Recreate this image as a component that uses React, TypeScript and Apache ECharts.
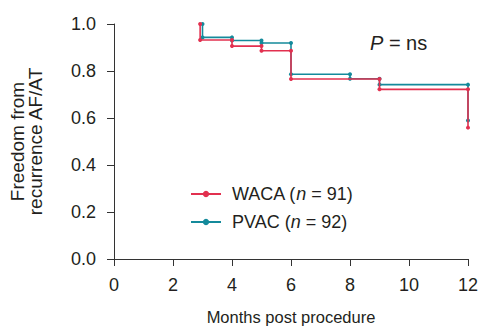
import React, { useEffect, useRef } from "react";
import * as echarts from "echarts";

const wacaTimes = [2.92, 2.92, 4, 4, 5, 5, 6, 6, 9, 9, 12, 12];
const wacaValues = [1.0, 0.932, 0.932, 0.906, 0.906, 0.886, 0.886, 0.766, 0.766, 0.722, 0.722, 0.559];
const pvacTimes = [3, 3, 4, 4, 5, 5, 6, 6, 8, 8, 9, 9, 12, 12];
const pvacValues = [1.0, 0.943, 0.943, 0.93, 0.93, 0.919, 0.919, 0.786, 0.786, 0.767, 0.767, 0.742, 0.742, 0.589];
const seriesNames = ["WACA", "PVAC"];
const seriesN = [91, 92];
const xTicks = [0, 2, 4, 6, 8, 10, 12];
const yTicks = [0, 0.2, 0.4, 0.6, 0.8, 1.0];

const RED = "#e2304f";
const TEAL = "#148a9b";
const FONT = "Liberation Sans, Arial, sans-serif";
const TXT = "#231f20";

export default function App() {
  const ref = useRef<HTMLDivElement>(null);
  useEffect(() => {
    const chart = echarts.init(ref.current!, null, { renderer: "svg" });
    const toPairs = (t: number[], v: number[]) => t.map((x, i) => [x, v[i]]);
    chart.setOption({
      animation: false,
      textStyle: { fontFamily: FONT },
      grid: { left: 114, right: 13, top: 24, bottom: 69, containLabel: false, outerBoundsMode: "none" },
      legend: {
        orient: "vertical",
        left: 185,
        top: 180,
        itemWidth: 30,
        itemHeight: 8,
        itemGap: 10,
        data: seriesNames,
        textStyle: {
          fontSize: 18,
          color: TXT,
          fontFamily: FONT,
          rich: {
            s: { width: 6 },
            a: { fontSize: 18, color: TXT, fontFamily: FONT },
            i: { fontSize: 18, color: TXT, fontFamily: FONT, fontStyle: "italic" },
          },
        },
        formatter: (name: string) => {
          const idx = seriesNames.indexOf(name);
          return `{s|}{a|${name} (}{i|n}{a| = ${seriesN[idx]})}`;
        },
      },
      xAxis: {
        type: "value",
        min: 0,
        max: 12,
        interval: 2,
        name: "Months post procedure",
        nameLocation: "middle",
        nameGap: 49,
        nameTextStyle: { fontSize: 16.5, color: TXT, fontFamily: FONT },
        axisLine: { onZero: false, lineStyle: { color: "#333", width: 1 } },
        axisTick: { show: true, length: 7, lineStyle: { color: "#333" } },
        axisLabel: {
          fontSize: 18,
          color: TXT,
          margin: 17,
          formatter: (v: number) => (xTicks.includes(v) ? String(v) : ""),
        },
        splitLine: { show: false },
      },
      yAxis: {
        type: "value",
        min: 0,
        max: 1,
        interval: 0.2,
        name: "Freedom from\nrecurrence AF/AT",
        nameLocation: "middle",
        nameGap: 70,
        nameTextStyle: { fontSize: 19, color: TXT, fontFamily: FONT, lineHeight: 18 },
        axisLine: { show: true, lineStyle: { color: "#333", width: 1 } },
        axisTick: { show: true, length: 7, lineStyle: { color: "#333" } },
        axisLabel: {
          fontSize: 18,
          color: TXT,
          margin: 18,
          formatter: (v: number) => {
            const t = yTicks.find((y) => Math.abs(y - v) < 1e-6);
            return t === undefined ? "" : t.toFixed(1);
          },
        },
        splitLine: { show: false },
      },
      series: [
        {
          name: seriesNames[1],
          type: "line",
          data: toPairs(pvacTimes, pvacValues),
          symbol: "circle",
          symbolSize: 4,
          showSymbol: true,
          lineStyle: { color: TEAL, width: 1.6 },
          itemStyle: { color: TEAL },
          z: 2,
        },
        {
          name: seriesNames[0],
          type: "line",
          data: toPairs(wacaTimes, wacaValues),
          symbol: "circle",
          symbolSize: 4,
          showSymbol: true,
          lineStyle: { color: RED, width: 1.6 },
          itemStyle: { color: RED },
          z: 3,
        },
      ],
      graphic: [
        {
          type: "text",
          left: 370,
          top: 33,
          style: {
            text: "{i|P}{a| = ns}",
            rich: {
              i: { fontSize: 20, fontStyle: "italic", fill: TXT, fontFamily: FONT },
              a: { fontSize: 20, fill: TXT, fontFamily: FONT },
            },
          },
        },
      ],
    });
    return () => chart.dispose();
  }, []);
  return <div ref={ref} style={{ width: 481, height: 328, position: "absolute", left: 0, top: 0 }} />;
}
